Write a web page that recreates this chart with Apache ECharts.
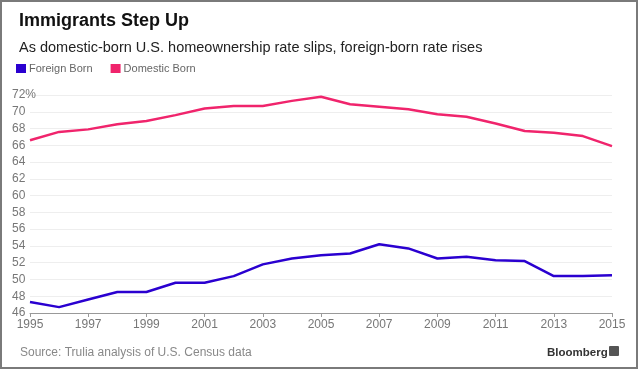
<!DOCTYPE html>
<html>
<head>
<meta charset="utf-8">
<script src="https://cdn.jsdelivr.net/npm/echarts@6/dist/echarts.min.js"></script>
<style>
html,body{margin:0;padding:0;background:#fff;}
#c{width:640px;height:373px;}
</style>
</head>
<body>
<div id="c"></div>
<script>
const years = ['1995','1996','1997','1998','1999','2000','2001','2002','2003','2004','2005','2006','2007','2008','2009','2010','2011','2012','2013','2014','2015'];
const foreignBorn = [47.3,46.7,47.6,48.5,48.5,49.6,49.6,50.4,51.8,52.5,52.9,53.1,54.2,53.7,52.5,52.7,52.3,52.2,50.4,50.4,50.5];
const domesticBorn = [66.6,67.6,67.9,68.5,68.9,69.6,70.4,70.7,70.7,71.3,71.8,70.9,70.6,70.3,69.7,69.4,68.6,67.7,67.5,67.1,65.9];
const yTicks = {min:46, max:72, step:2};
const seriesNames = ['Foreign Born','Domestic Born'];
const colors = ['#2a00d0','#f0246c'];

const chart = echarts.init(document.getElementById('c'));
const font = 'Liberation Sans, Arial, sans-serif';
chart.setOption({
  animation:false,
  textStyle:{fontFamily:font},
  title:[
    {text:'Immigrants Step Up', left:14, top:7, textStyle:{fontSize:18, fontWeight:'bold', color:'#111', fontFamily:font}},
    {text:'As domestic-born U.S. homeownership rate slips, foreign-born rate rises', left:14, top:35, textStyle:{fontSize:14.5, fontWeight:'normal', color:'#222', fontFamily:font}},
    {text:'Source: Trulia analysis of U.S. Census data', left:15, top:342, textStyle:{fontSize:12, fontWeight:'normal', color:'#888', fontFamily:font}},
    {text:'Bloomberg', left:542, top:342, textStyle:{fontSize:11.5, fontWeight:'bold', color:'#333', fontFamily:font}}
  ],
  legend:{
    left:11, top:58, itemWidth:10, itemHeight:9, itemGap:18,
    icon:'rect',
    data:seriesNames,
    textStyle:{fontSize:11, color:'#666', padding:[0,0,0,-2]}
  },
  graphic:[
    {type:'rect', shape:{x:1,y:1,width:636,height:367}, style:{fill:'none', stroke:'#7a7a7a', lineWidth:2}, silent:true},
    {type:'rect', shape:{x:609,y:346,width:10,height:10,r:1}, style:{fill:'#555'}, silent:true}
  ],
  grid:{left:30, right:28, top:95, bottom:60},
  xAxis:{
    type:'category', data:years, boundaryGap:false,
    axisLine:{lineStyle:{color:'#999', width:1}},
    axisTick:{show:true, interval:1, length:4, lineStyle:{color:'#999'}},
    axisLabel:{interval:1, color:'#777', fontSize:12, margin:6}
  },
  yAxis:{
    type:'value', min:yTicks.min, max:yTicks.max, interval:yTicks.step,
    axisLine:{show:false}, axisTick:{show:false},
    splitLine:{lineStyle:{color:'#eee', width:1}},
    axisLabel:{align:'left', margin:18, color:'#777', fontSize:12,
      formatter:v=> v===yTicks.max ? v+'%' : String(v)}
  },
  series:[
    {name:seriesNames[0], type:'line', data:foreignBorn, symbol:'none', lineStyle:{color:colors[0], width:2.5}, itemStyle:{color:colors[0]}},
    {name:seriesNames[1], type:'line', data:domesticBorn, symbol:'none', lineStyle:{color:colors[1], width:2.5}, itemStyle:{color:colors[1]}}
  ]
});
</script>
</body>
</html>
